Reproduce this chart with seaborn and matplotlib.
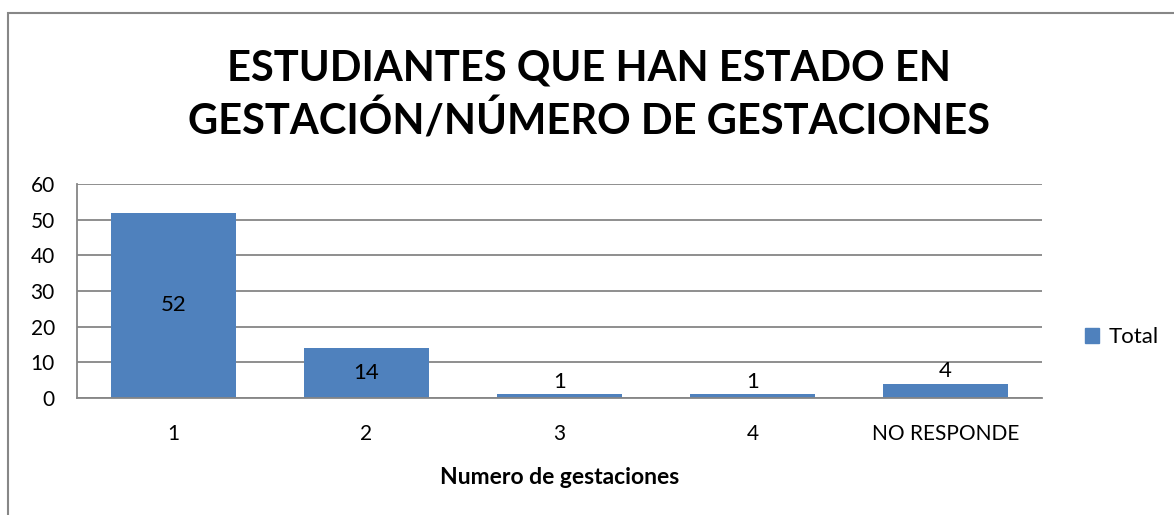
import numpy as np
import pandas as pd
import matplotlib
matplotlib.use('Agg')
import matplotlib.pyplot as plt
import seaborn as sns
from matplotlib.patches import Rectangle, Patch

categories = ['1', '2', '3', '4', 'NO RESPONDE']
totals = [52, 14, 1, 1, 4]

title = 'ESTUDIANTES QUE HAN ESTADO EN\nGESTACIÓN/NÚMERO DE GESTACIONES'
xlabel = 'Numero de gestaciones'
series_name = 'Total'

BAR_COLOR = '#4F81BD'
GRID_COLOR = '#868686'

sns.set_theme(style='white')
plt.rcParams['font.family'] = ['Lato', 'DejaVu Sans']
plt.rcParams['text.color'] = 'black'

df = pd.DataFrame({'cat': categories, 'total': totals})

fig = plt.figure(figsize=(11.74, 5.15), dpi=100)
ax = fig.add_axes([0.0656, 0.2272, 0.822, 0.4155])

sns.barplot(data=df, x='cat', y='total', color=BAR_COLOR, saturation=1,
            width=0.643, linewidth=0, ax=ax)

ax.set_ylim(0, 60)
ax.set_yticks(range(0, 61, 10))
ax.set_xlim(-0.5, len(categories) - 0.5)
ax.yaxis.grid(True, color=GRID_COLOR, linewidth=1.3)
ax.set_axisbelow(True)
for side in ['top', 'right']:
    ax.spines[side].set_visible(False)
for side in ['left', 'bottom']:
    ax.spines[side].set_color(GRID_COLOR)
    ax.spines[side].set_linewidth(1.3)
ax.tick_params(axis='both', length=0, labelsize=15, colors='black')
ax.tick_params(axis='x', pad=19)
ax.tick_params(axis='y', pad=16)
ax.set_ylabel('')
ax.set_xlabel(xlabel, fontsize=16.5, fontweight='bold', labelpad=16,
              color='black')

# data labels: centred inside bar when it fits, otherwise just above
for i, v in enumerate(totals):
    if v >= 10:
        ax.text(i, v / 2, str(v), ha='center', va='center', fontsize=16)
    else:
        ax.text(i, v + 0.8, str(v), ha='center', va='bottom', fontsize=16)

fig.text(0.5015, 0.815, title, ha='center', va='center', fontsize=30,
         fontweight='bold', linespacing=1.35)

leg = fig.legend(handles=[Patch(color=BAR_COLOR, label=series_name)],
                 loc='center left', bbox_to_anchor=(0.907, 0.345),
                 frameon=False, fontsize=16, handlelength=0.65,
                 handleheight=0.65, handletextpad=0.4)

# outer chart border (extends past the image on right/bottom)
fig.patches.append(Rectangle((8 / 1174, -0.1), 1.2, (515 - 13) / 515 + 0.1,
                             transform=fig.transFigure, fill=False,
                             edgecolor='#878787', linewidth=1.5))

fig.savefig('out.png', dpi=100)
